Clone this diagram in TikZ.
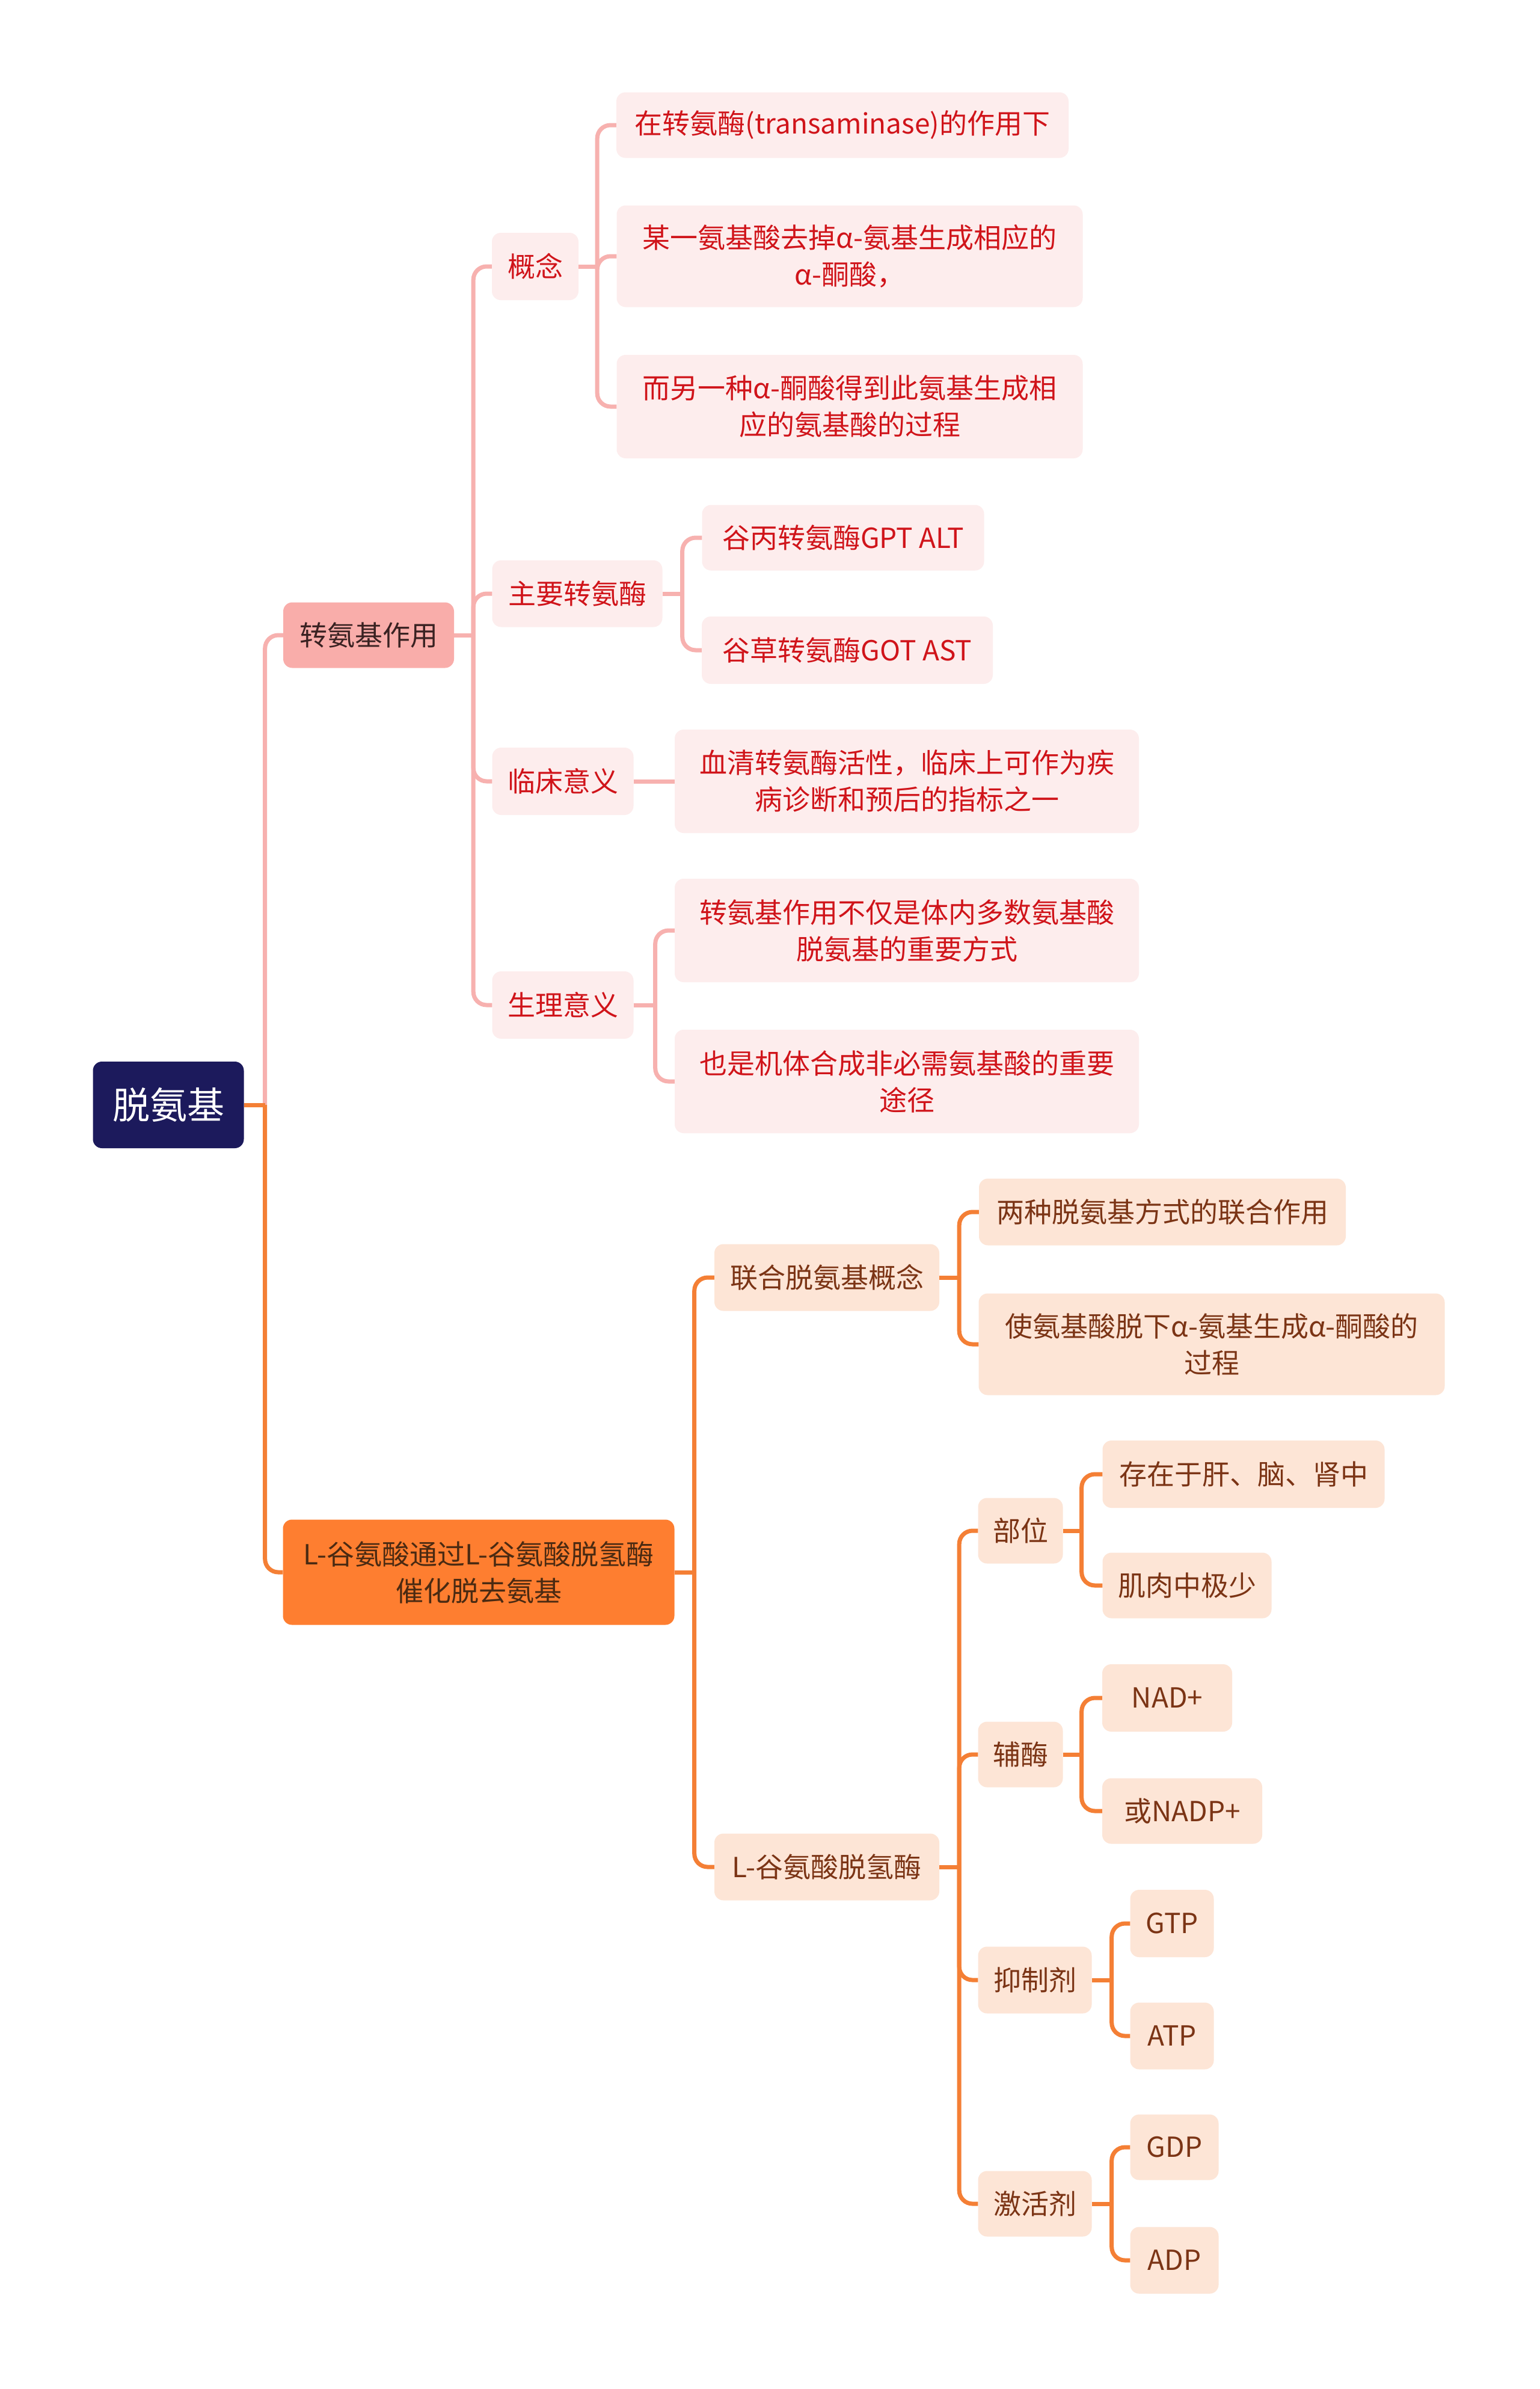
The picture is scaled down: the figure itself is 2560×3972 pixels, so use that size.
\documentclass[tikz,border=0pt]{standalone}
\usepackage{fontspec}
\setmainfont{Noto Sans CJK SC}
\definecolor{rootfill}{HTML}{1C1A5C}
\definecolor{pinkmain}{HTML}{F9ADAA}
\definecolor{pinkmaintext}{HTML}{3A2222}
\definecolor{pinkfill}{HTML}{FDEDED}
\definecolor{pinktext}{HTML}{D0141A}
\definecolor{pinkline}{HTML}{F7B1AF}
\definecolor{orgmain}{HTML}{FE7E30}
\definecolor{orgmaintext}{HTML}{4A2A12}
\definecolor{orgfill}{HTML}{FDE5D6}
\definecolor{orgtext}{HTML}{7B3415}
\definecolor{orgline}{HTML}{F47F35}
\tikzset{
  base/.style={rounded corners=15pt, inner sep=0pt, align=center,
    font=\fontsize{46}{61}\selectfont},
  rootbox/.style={base, fill=rootfill, text=white, font=\fontsize{62}{70}\selectfont},
  pinkbig/.style={base, fill=pinkmain, text=pinkmaintext},
  pinkbox/.style={base, fill=pinkfill, text=pinktext},
  orgbig/.style={base, fill=orgmain, text=orgmaintext},
  orgbox/.style={base, fill=orgfill, text=orgtext},
  pinkconn/.style={draw=pinkline, line width=7pt, rounded corners=22pt},
  orgconn/.style={draw=orgline, line width=7pt, rounded corners=22pt},
  sz/.style 2 args={minimum width=#1pt, minimum height=#2pt}
}
\begin{document}
\begin{tikzpicture}[x=1pt,y=-1pt]
\useasboundingbox (0,0) rectangle (2560,3972);
\fill[white] (0,0) rectangle (2560,3972);

% nodes
\node[rootbox, sz={251}{144}] (root) at (280,1837) {脱氨基};
\node[pinkbig, sz={284}{109}] (A) at (613,1056) {转氨基作用};
\node[orgbig, sz={651}{175}] (B) at (796,2614) {L-谷氨酸通过L-谷氨酸脱氢酶\\催化脱去氨基};

\node[pinkbox, sz={144}{112}] (a1) at (890,443) {概念};
\node[pinkbox, sz={283}{111}] (a2) at (960,987) {主要转氨酶};
\node[pinkbox, sz={235}{112}] (a3) at (936,1299) {临床意义};
\node[pinkbox, sz={235}{112}] (a4) at (936,1671) {生理意义};

\node[pinkbox, sz={752}{109}] (c1) at (1401,208) {在转氨酶(transaminase)的作用下};
\node[pinkbox, sz={775}{169}] (c2) at (1413,426) {某一氨基酸去掉α-氨基生成相应的\\α-酮酸，};
\node[pinkbox, sz={775}{172}] (c3) at (1413,676) {而另一种α-酮酸得到此氨基生成相\\应的氨基酸的过程};

\node[pinkbox, sz={469}{109}] (d1) at (1402,894) {谷丙转氨酶GPT ALT};
\node[pinkbox, sz={484}{112}] (d2) at (1409,1081) {谷草转氨酶GOT AST};

\node[pinkbox, sz={772}{172}] (e1) at (1508,1299) {血清转氨酶活性，临床上可作为疾\\病诊断和预后的指标之一};

\node[pinkbox, sz={772}{172}] (f1) at (1508,1547) {转氨基作用不仅是体内多数氨基酸\\脱氨基的重要方式};
\node[pinkbox, sz={772}{172}] (f2) at (1508,1798) {也是机体合成非必需氨基酸的重要\\途径};

\node[orgbox, sz={374}{111}] (g1) at (1375,2124) {联合脱氨基概念};
\node[orgbox, sz={374}{111}] (g2) at (1375,3104) {L-谷氨酸脱氢酶};

\node[orgbox, sz={610}{111}] (h1) at (1933,2015) {两种脱氨基方式的联合作用};
\node[orgbox, sz={775}{169}] (h2) at (2015,2235) {使氨基酸脱下α-氨基生成α-酮酸的\\过程};

\node[orgbox, sz={141}{109}] (i1) at (1697,2545) {部位};
\node[orgbox, sz={141}{109}] (i2) at (1697,2917) {辅酶};
\node[orgbox, sz={189}{111}] (i3) at (1721,3292) {抑制剂};
\node[orgbox, sz={189}{109}] (i4) at (1721,3664) {激活剂};

\node[orgbox, sz={469}{112}] (j1) at (2068,2451) {存在于肝、脑、肾中};
\node[orgbox, sz={281}{109}] (j2) at (1974,2636) {肌肉中极少};
\node[orgbox, sz={216}{112}] (k1) at (1941,2823) {NAD+};
\node[orgbox, sz={266}{109}] (k2) at (1966,3011) {或NADP+};
\node[orgbox, sz={139}{112}] (l1) at (1949,3198) {GTP};
\node[orgbox, sz={139}{111}] (l2) at (1949,3385) {ATP};
\node[orgbox, sz={147}{109}] (m1) at (1953,3570) {GDP};
\node[orgbox, sz={147}{111}] (m2) at (1953,3758) {ADP};

% junction coordinates
\coordinate (rootT) at ([xshift=35pt]root.east);
\coordinate (AT) at ([xshift=32pt]A.east);
\coordinate (BT) at ([xshift=33pt]B.east);
\coordinate (a1T) at ([xshift=31pt]a1.east);
\coordinate (a2T) at ([xshift=33pt]a2.east);
\coordinate (a4T) at ([xshift=36pt]a4.east);
\coordinate (g1T) at ([xshift=33pt]g1.east);
\coordinate (g2T) at ([xshift=33pt]g2.east);
\coordinate (i1T) at ([xshift=31pt]i1.east);
\coordinate (i2T) at ([xshift=31pt]i2.east);
\coordinate (i3T) at ([xshift=33pt]i3.east);
\coordinate (i4T) at ([xshift=33pt]i4.east);

% connectors
\draw[pinkconn] (rootT) |- (A.west);
\draw[orgconn] (rootT) |- (B.west);
\draw[orgconn] (root.east) -- (rootT);

\draw[pinkconn] (A.east) -- (AT);
\foreach \c in {a1,a2,a3,a4} \draw[pinkconn] (AT) |- (\c.west);

\draw[pinkconn] (a1.east) -- (a1T);
\foreach \c in {c1,c2,c3} \draw[pinkconn] (a1T) |- (\c.west);
\draw[pinkconn] (a2.east) -- (a2T);
\foreach \c in {d1,d2} \draw[pinkconn] (a2T) |- (\c.west);
\draw[pinkconn] (a3.east) -- (e1.west);
\draw[pinkconn] (a4.east) -- (a4T);
\foreach \c in {f1,f2} \draw[pinkconn] (a4T) |- (\c.west);

\draw[orgconn] (B.east) -- (BT);
\foreach \c in {g1,g2} \draw[orgconn] (BT) |- (\c.west);
\draw[orgconn] (g1.east) -- (g1T);
\foreach \c in {h1,h2} \draw[orgconn] (g1T) |- (\c.west);
\draw[orgconn] (g2.east) -- (g2T);
\foreach \c in {i1,i2,i3,i4} \draw[orgconn] (g2T) |- (\c.west);
\draw[orgconn] (i1.east) -- (i1T);
\foreach \c in {j1,j2} \draw[orgconn] (i1T) |- (\c.west);
\draw[orgconn] (i2.east) -- (i2T);
\foreach \c in {k1,k2} \draw[orgconn] (i2T) |- (\c.west);
\draw[orgconn] (i3.east) -- (i3T);
\foreach \c in {l1,l2} \draw[orgconn] (i3T) |- (\c.west);
\draw[orgconn] (i4.east) -- (i4T);
\foreach \c in {m1,m2} \draw[orgconn] (i4T) |- (\c.west);
\end{tikzpicture}
\end{document}
